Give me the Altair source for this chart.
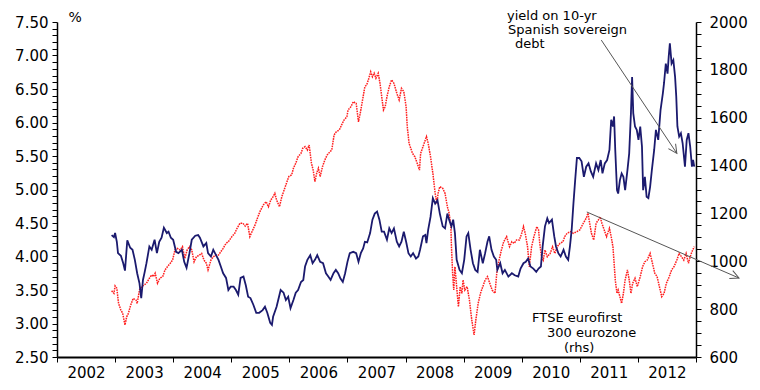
import altair as alt
import pandas as pd
import numpy as np

# ---- data ----
yield_years = [2002.94,2002.98,2003.00,2003.03,2003.05,2003.10,2003.14,2003.17,2003.21,2003.26,2003.30,2003.34,2003.38,2003.42,2003.45,2003.48,2003.51,2003.54,2003.59,2003.63,2003.68,2003.72,2003.76,2003.80,2003.84,2003.89,2003.92,2003.96,2004.00,2004.05,2004.09,2004.15,2004.19,2004.23,2004.28,2004.32,2004.38,2004.43,2004.46,2004.52,2004.57,2004.60,2004.65,2004.69,2004.72,2004.78,2004.82,2004.86,2004.91,2004.95,2004.99,2005.04,2005.08,2005.12,2005.16,2005.21,2005.25,2005.29,2005.33,2005.38,2005.43,2005.48,2005.54,2005.58,2005.62,2005.67,2005.70,2005.72,2005.78,2005.85,2005.90,2005.94,2005.98,2006.02,2006.07,2006.11,2006.15,2006.20,2006.24,2006.27,2006.31,2006.36,2006.40,2006.44,2006.48,2006.53,2006.58,2006.63,2006.67,2006.71,2006.76,2006.80,2006.84,2006.88,2006.92,2006.96,2007.00,2007.04,2007.10,2007.15,2007.19,2007.23,2007.27,2007.30,2007.34,2007.39,2007.43,2007.47,2007.51,2007.55,2007.59,2007.63,2007.68,2007.72,2007.76,2007.80,2007.85,2007.89,2007.93,2007.97,2008.01,2008.05,2008.09,2008.13,2008.18,2008.22,2008.25,2008.30,2008.34,2008.36,2008.39,2008.43,2008.47,2008.51,2008.55,2008.59,2008.64,2008.68,2008.72,2008.75,2008.79,2008.82,2008.85,2008.88,2008.93,2008.97,2009.01,2009.05,2009.08,2009.12,2009.16,2009.20,2009.24,2009.28,2009.33,2009.37,2009.41,2009.44,2009.48,2009.52,2009.56,2009.58,2009.63,2009.67,2009.71,2009.77,2009.83,2009.88,2009.94,2009.98,2010.03,2010.07,2010.11,2010.15,2010.20,2010.25,2010.29,2010.33,2010.36,2010.40,2010.44,2010.47,2010.52,2010.56,2010.59,2010.63,2010.67,2010.72,2010.76,2010.80,2010.83,2010.86,2010.89,2010.92,2010.95,2010.99,2011.03,2011.07,2011.11,2011.15,2011.19,2011.23,2011.28,2011.32,2011.36,2011.39,2011.43,2011.47,2011.51,2011.54,2011.57,2011.59,2011.61,2011.64,2011.66,2011.69,2011.72,2011.75,2011.78,2011.82,2011.85,2011.88,2011.90,2011.92,2011.95,2011.98,2012.01,2012.04,2012.07,2012.09,2012.12,2012.15,2012.18,2012.21,2012.24,2012.28,2012.31,2012.35,2012.39,2012.43,2012.45,2012.48,2012.51,2012.53,2012.55,2012.58,2012.61,2012.64,2012.66,2012.68,2012.71,2012.74,2012.77,2012.81,2012.84,2012.87,2012.90,2012.93,2012.95,2012.97]
yield_values = [4.32,4.29,4.35,4.22,4.05,4.01,3.90,3.79,4.24,4.13,4.10,3.95,3.75,3.60,3.38,3.65,3.77,3.90,4.15,4.10,4.25,4.05,4.22,4.28,4.43,4.35,4.37,4.28,4.25,4.07,4.05,4.10,3.92,3.83,4.05,4.25,4.31,4.32,4.28,4.15,4.20,4.05,4.00,4.10,4.05,3.95,3.85,3.75,3.68,3.50,3.55,3.55,3.50,3.43,3.68,3.70,3.57,3.40,3.38,3.28,3.16,3.16,3.20,3.25,3.16,3.01,2.98,3.10,3.25,3.50,3.46,3.35,3.40,3.23,3.35,3.46,3.50,3.62,3.65,3.85,3.95,4.02,3.90,3.95,4.02,3.92,3.90,3.75,3.70,3.65,3.75,3.80,3.75,3.67,3.62,3.75,3.92,4.05,4.07,4.05,3.92,4.05,4.12,4.22,4.21,4.35,4.55,4.64,4.67,4.55,4.37,4.37,4.25,4.42,4.35,4.42,4.22,4.15,4.22,4.37,4.22,4.05,4.00,4.05,3.97,4.00,4.10,4.30,4.32,4.20,4.40,4.59,4.87,4.79,4.84,4.64,4.45,4.42,4.64,4.55,4.45,4.55,4.35,3.95,3.80,3.75,3.95,4.30,4.35,4.10,3.90,3.80,3.77,4.10,3.90,4.05,4.22,4.30,4.10,4.00,3.95,3.80,3.90,3.75,3.80,3.70,3.75,3.72,3.70,3.82,3.90,3.92,3.97,3.85,3.82,3.77,3.82,3.85,4.15,4.45,4.57,4.50,4.55,4.30,4.15,4.05,4.00,4.10,4.00,3.95,4.15,4.40,4.79,5.14,5.47,5.47,5.42,5.19,5.34,5.39,5.27,5.19,5.39,5.29,5.44,5.24,5.39,5.44,5.59,6.04,5.94,6.09,5.59,4.99,4.94,5.14,5.24,5.19,4.99,5.29,5.54,6.14,6.68,6.14,5.94,5.89,5.74,5.94,5.64,4.99,5.19,4.89,4.87,5.04,5.29,5.59,5.89,5.74,6.19,6.44,6.59,6.88,6.73,6.98,7.18,6.88,6.93,6.68,6.39,5.94,5.79,5.84,5.69,5.34,5.74,5.84,5.64,5.34,5.44,5.34]

ftse_years = [2002.94,2002.98,2003.00,2003.03,2003.06,2003.10,2003.13,2003.17,2003.20,2003.23,2003.26,2003.29,2003.31,2003.36,2003.38,2003.42,2003.46,2003.50,2003.54,2003.59,2003.63,2003.66,2003.69,2003.73,2003.77,2003.82,2003.86,2003.90,2003.95,2003.99,2004.03,2004.07,2004.12,2004.16,2004.20,2004.24,2004.28,2004.32,2004.36,2004.40,2004.45,2004.49,2004.53,2004.57,2004.60,2004.65,2004.69,2004.74,2004.78,2004.82,2004.86,2004.91,2004.95,2005.01,2005.06,2005.10,2005.15,2005.20,2005.24,2005.28,2005.32,2005.37,2005.41,2005.45,2005.49,2005.55,2005.60,2005.64,2005.68,2005.72,2005.75,2005.78,2005.83,2005.87,2005.91,2005.95,2005.99,2006.04,2006.07,2006.11,2006.15,2006.20,2006.23,2006.27,2006.31,2006.34,2006.38,2006.41,2006.44,2006.47,2006.50,2006.53,2006.57,2006.61,2006.65,2006.70,2006.73,2006.77,2006.81,2006.86,2006.90,2006.94,2006.99,2007.01,2007.06,2007.10,2007.15,2007.19,2007.22,2007.25,2007.27,2007.30,2007.33,2007.36,2007.40,2007.43,2007.46,2007.49,2007.53,2007.56,2007.59,2007.62,2007.65,2007.68,2007.72,2007.76,2007.80,2007.85,2007.89,2007.93,2007.97,2008.01,2008.03,2008.06,2008.12,2008.16,2008.20,2008.24,2008.26,2008.30,2008.34,2008.36,2008.39,2008.43,2008.47,2008.51,2008.54,2008.56,2008.59,2008.64,2008.68,2008.72,2008.75,2008.78,2008.79,2008.81,2008.83,2008.85,2008.88,2008.91,2008.94,2008.97,2008.99,2009.02,2009.06,2009.10,2009.14,2009.18,2009.21,2009.25,2009.29,2009.33,2009.37,2009.41,2009.45,2009.49,2009.54,2009.57,2009.61,2009.65,2009.69,2009.74,2009.79,2009.83,2009.87,2009.91,2009.96,2010.00,2010.03,2010.06,2010.10,2010.13,2010.17,2010.21,2010.26,2010.29,2010.31,2010.34,2010.37,2010.40,2010.44,2010.49,2010.53,2010.57,2010.61,2010.66,2010.71,2010.74,2010.78,2010.84,2010.89,2010.95,2011.00,2011.06,2011.11,2011.14,2011.16,2011.20,2011.24,2011.28,2011.32,2011.35,2011.38,2011.42,2011.46,2011.51,2011.54,2011.57,2011.59,2011.61,2011.64,2011.66,2011.69,2011.72,2011.75,2011.78,2011.82,2011.85,2011.88,2011.91,2011.95,2011.99,2012.04,2012.08,2012.12,2012.16,2012.21,2012.25,2012.29,2012.33,2012.37,2012.41,2012.45,2012.49,2012.54,2012.58,2012.62,2012.67,2012.71,2012.75,2012.79,2012.83,2012.87,2012.90,2012.93,2012.97]
ftse_values = [877,866,897,887,824,796,783,734,768,783,810,831,845,838,824,880,894,901,908,929,943,936,950,908,929,936,964,977,992,1005,1047,1054,1047,1061,1012,1047,1061,1047,998,1019,1026,1033,1005,992,964,1005,1019,1026,1026,1040,1054,1075,1082,1103,1117,1138,1159,1159,1147,1159,1103,1131,1152,1180,1206,1235,1249,1228,1256,1270,1284,1256,1228,1270,1298,1326,1354,1361,1389,1410,1437,1451,1472,1479,1465,1486,1410,1381,1333,1368,1389,1354,1395,1423,1444,1458,1465,1528,1542,1549,1570,1590,1604,1632,1646,1667,1660,1583,1618,1660,1688,1730,1737,1758,1792,1771,1786,1765,1786,1744,1688,1632,1646,1688,1730,1758,1744,1702,1674,1723,1709,1646,1562,1493,1451,1437,1410,1381,1451,1479,1507,1521,1493,1437,1368,1284,1242,1284,1312,1305,1284,1228,1201,1145,1061,950,880,977,894,810,894,866,922,880,894,838,755,692,755,824,866,894,922,936,908,880,866,950,1005,1047,1082,1103,1061,1082,1075,1089,1089,1117,1145,1117,1061,977,1061,1103,1145,1131,1075,1019,1005,1047,1019,1033,1061,1033,1061,1075,1082,1103,1117,1124,1117,1124,1131,1159,1180,1201,1173,1117,1089,1159,1173,1186,1159,1131,1103,1138,1103,1061,992,922,866,880,852,824,866,922,964,922,866,908,929,894,936,977,998,1005,1033,992,950,936,894,852,866,908,936,964,977,1005,1033,1019,1005,1033,992,1019,1040,1061]

year_ticks = list(range(2002, 2014))
left_ticks = [round(v, 1) for v in np.arange(2.5, 7.51, 0.1)]
right_ticks = list(range(600, 2001, 50))

# annotation arrows (in data units)
yield_arrow = pd.DataFrame({"x": [2011.37], "y": [7.23], "x2": [2012.67], "y2": [5.54]})
ftse_arrow = pd.DataFrame({"x": [2011.12], "y": [1206], "x2": [2013.74], "y2": [930]})

yield_df = pd.DataFrame({"year": yield_years, "value": yield_values})
ftse_df = pd.DataFrame({"year": ftse_years, "value": ftse_values})

FONT = "DejaVu Sans"
FS = 15
AFS = 13
NAVY = "#1b1a6e"
RED = "#ff1e1e"
GREY = "#555555"

xscale = alt.Scale(domain=[2002, 2013], nice=False, zero=False)
yl_scale = alt.Scale(domain=[2.5, 7.5], nice=False, zero=False)
yr_scale = alt.Scale(domain=[600, 2000], nice=False, zero=False)

x_axis = alt.Axis(
    orient="bottom", values=year_ticks,
    labelExpr="datum.value >= 2013 ? '' : toString(datum.value)",
    labelOffset=29, labelFlush=False, labelOverlap=False,
    tickSize=5, labelPadding=3, domainWidth=2, title=None, grid=False,
)
left_axis = alt.Axis(
    orient="left", values=left_ticks,
    labelExpr="abs(datum.value*2 - round(datum.value*2)) < 0.001 ? format(datum.value, '.2f') : ''",
    labelOverlap=False, tickSize=5, labelPadding=4, grid=False,
    title="%", titleAngle=0, titleX=11, titleY=-5, titleFontWeight="normal",
    titleFont=FONT, titleFontSize=14, titleColor="black", titleAlign="left",
    titleBaseline="middle",
)
right_axis = alt.Axis(
    orient="right", values=right_ticks,
    labelExpr="datum.value % 200 == 0 ? toString(datum.value) : ''",
    labelOverlap=False, tickSize=5, labelPadding=8, grid=False, title=None,
)

ftse_line = alt.Chart(ftse_df).mark_line(
    color=RED, strokeWidth=1.5, strokeDash=[1.6, 0.9], interpolate="linear"
).encode(
    x=alt.X("year:Q", scale=xscale, axis=x_axis),
    y=alt.Y("value:Q", scale=yr_scale, axis=right_axis),
)
ftse_rule = alt.Chart(ftse_arrow).mark_rule(color=GREY, strokeWidth=1).encode(
    x=alt.X("x:Q", scale=xscale, axis=x_axis), x2="x2:Q",
    y=alt.Y("y:Q", scale=yr_scale, axis=right_axis), y2="y2:Q",
)
ftse_head = alt.Chart(ftse_arrow).mark_point(
    shape="M -0.5 -1 L 0 0 L 0.5 -1", filled=False, size=300, angle=293.5,
    stroke=GREY, strokeWidth=1, opacity=1,
).encode(
    x=alt.X("x2:Q", scale=xscale, axis=x_axis),
    y=alt.Y("y2:Q", scale=yr_scale, axis=right_axis),
)
ftse_group = alt.layer(ftse_line, ftse_rule, ftse_head)

yield_line = alt.Chart(yield_df).mark_line(
    color=NAVY, strokeWidth=1.8, interpolate="linear"
).encode(
    x=alt.X("year:Q", scale=xscale, axis=x_axis),
    y=alt.Y("value:Q", scale=yl_scale, axis=left_axis),
)
yield_rule = alt.Chart(yield_arrow).mark_rule(color=GREY, strokeWidth=1).encode(
    x=alt.X("x:Q", scale=xscale, axis=x_axis), x2="x2:Q",
    y=alt.Y("y:Q", scale=yl_scale, axis=left_axis), y2="y2:Q",
)
yield_head = alt.Chart(yield_arrow).mark_point(
    shape="M -0.5 -1 L 0 0 L 0.5 -1", filled=False, size=300, angle=326,
    stroke=GREY, strokeWidth=1, opacity=1,
).encode(
    x=alt.X("x2:Q", scale=xscale, axis=x_axis),
    y=alt.Y("y2:Q", scale=yl_scale, axis=left_axis),
)

yield_text_lines = ["yield on 10-yr", "Spanish sovereign", "debt"]
yield_text_x = [507, 508, 515]
yield_text_y = [-6, 8, 22]
ftse_text_lines = ["FTSE eurofirst", "300 eurozone", "(rhs)"]
ftse_text_x = [532, 547, 564]
ftse_text_y = [296, 311, 326]

def text_mark(txt, xp, yp):
    return alt.Chart(pd.DataFrame({"t": [txt]})).mark_text(
        font=FONT, fontSize=AFS, color="black", align="left", baseline="middle"
    ).encode(text="t:N", x=alt.value(xp - 57), y=alt.value(yp))

texts = [text_mark(t, x, y) for t, x, y in zip(yield_text_lines, yield_text_x, yield_text_y)]
texts += [text_mark(t, x, y) for t, x, y in zip(ftse_text_lines, ftse_text_x, ftse_text_y)]

yield_group = alt.layer(yield_line, yield_rule, yield_head)

chart = alt.layer(ftse_group, yield_group, *texts).resolve_scale(y="independent").properties(
    width=639, height=335,
    padding={"left": 49, "top": 14, "right": 56, "bottom": 25},
    autosize=alt.AutoSizeParams(type="none"),
).configure_view(stroke=None).configure_axis(
    labelFont=FONT, labelFontSize=FS, labelColor="black",
    domainColor="black", domainWidth=1.5, tickColor="black", tickWidth=1,
)

chart.save("out.html", embed_options={"renderer": "svg", "actions": False})
